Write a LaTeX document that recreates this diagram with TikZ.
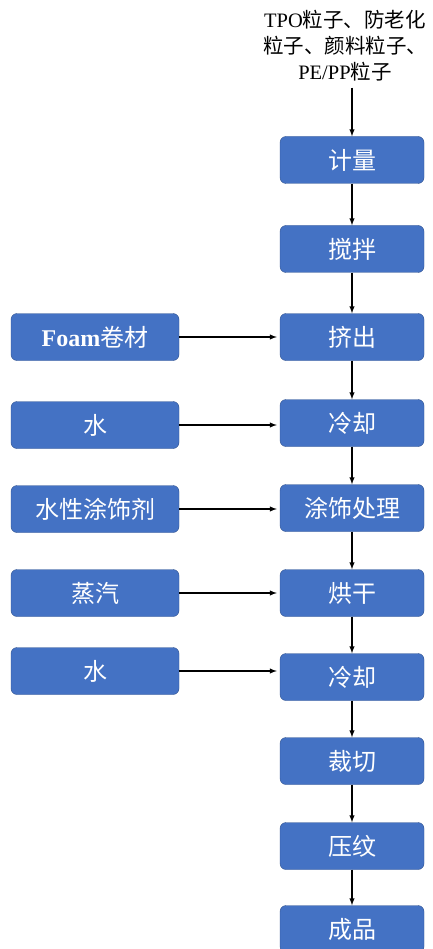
\documentclass[tikz,border=0pt]{standalone}
\usepackage{fontspec}
\setmainfont{Liberation Serif}
\newfontfamily\cjk{Noto Sans CJK SC}
\usetikzlibrary{positioning}
\definecolor{boxblue}{RGB}{68,114,196}
\definecolor{boxline}{RGB}{47,82,143}

\begin{document}
\begin{tikzpicture}[x=1pt,y=-1pt,
  proc/.style={draw=boxline, fill=boxblue, rounded corners=6pt,
    minimum width=144pt, minimum height=47pt, inner sep=0pt,
    text=white, font=\cjk\fontsize{24}{26}\selectfont},
  src/.style={proc, minimum width=168pt},
  flow/.style={-latex, line width=1.4pt}]
  \useasboundingbox (0,0) rectangle (432,949);
  % raw materials
  \node[align=center, inner sep=0pt, font=\fontsize{20.5}{26}\selectfont] (yl) at (345,46)
    {TPO{\cjk 粒子、防老化}\\{\cjk 粒子、颜料粒子、}\\PE/PP{\cjk 粒子}};
  % main line
  \node[proc] (jl)  at (352,160) {计量};
  \node[proc] (jb)  at (352,249) {搅拌};
  \node[proc] (jc)  at (352,337) {挤出};
  \node[proc] (lq1) at (352,423) {冷却};
  \node[proc] (ts)  at (352,508) {涂饰处理};
  \node[proc] (hg)  at (352,593) {烘干};
  \node[proc] (lq2) at (352,677) {冷却};
  \node[proc] (cq)  at (352,761) {裁切};
  \node[proc] (yw)  at (352,846) {压纹};
  \node[proc] (cp)  at (352,929) {成品};
  % inputs
  \node[src] (foam)  at (95,337) {{\rmfamily\bfseries Foam}卷材};
  \node[src] (shui1) at (95,425) {水};
  \node[src] (tsj)   at (95,509) {水性涂饰剂};
  \node[src] (zq)    at (95,593) {蒸汽};
  \node[src] (shui2) at (95,671) {水};
  % arrows
  \draw[flow] (yl.south -| jl) ++(0,6) -- (jl);
  \foreach \a/\b in {jl/jb, jb/jc, jc/lq1, lq1/ts, ts/hg, hg/lq2, lq2/cq, cq/yw, yw/cp}
    \draw[flow] (\a) -- (\b);
  \foreach \a/\b in {foam/jc, shui1/lq1, tsj/ts, zq/hg, shui2/lq2}
    \draw[flow, shorten >=3pt] (\a.east) -- (\a.east -| \b.west);
\end{tikzpicture}
\end{document}
